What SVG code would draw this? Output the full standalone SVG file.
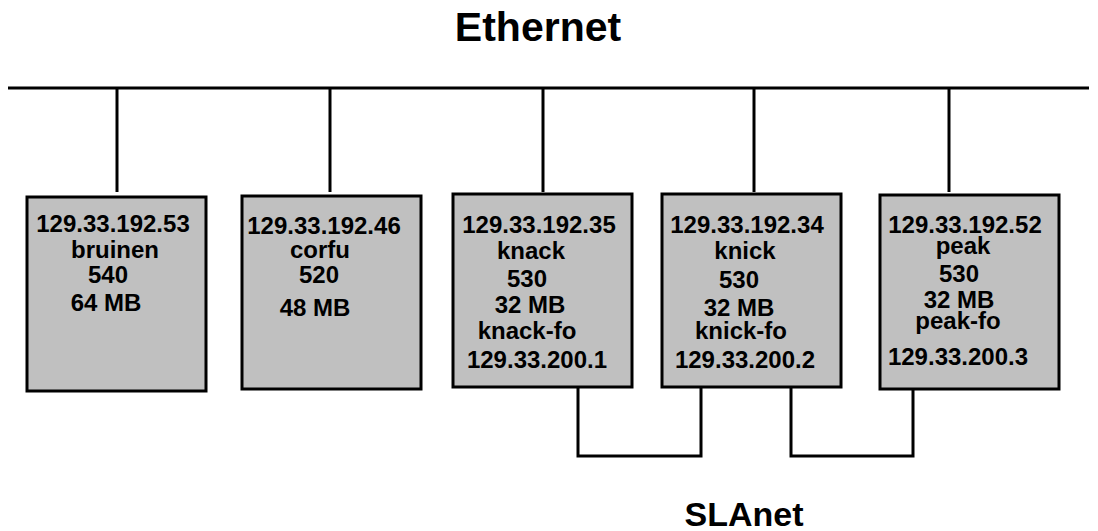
<svg xmlns="http://www.w3.org/2000/svg" width="1098" height="531" viewBox="0 0 1098 531">
<style>
text{font-family:"Liberation Sans",Arial,sans-serif;font-weight:bold;fill:#000;text-anchor:middle}
.t{font-size:24px}
.title{font-size:41px}
.sub{font-size:34px}
.box{fill:#c0c0c0;stroke:#000;stroke-width:3}
.ln{fill:none;stroke:#000;stroke-width:3}
</style>
<rect width="1098" height="531" fill="#fff"/>
<text class="title" x="538" y="41">Ethernet</text>
<text class="sub" x="744" y="526">SLAnet</text>
<g id="connectors">
<line class="ln" x1="8" y1="88" x2="1089" y2="88"/>
<line class="ln" x1="117" y1="88" x2="117" y2="192"/>
<line class="ln" x1="330" y1="88" x2="330" y2="192"/>
<line class="ln" x1="543" y1="88" x2="543" y2="192"/>
<line class="ln" x1="754" y1="88" x2="754" y2="192"/>
<line class="ln" x1="949" y1="88" x2="949" y2="192"/>
<polyline class="ln" points="578,387 578,456 701,456 701,387"/>
<polyline class="ln" points="791,387 791,456 913,456 913,387"/>
</g>
<g id="bruinen">
<rect class="box" x="27" y="197" width="179" height="194"/>
<text class="t" x="113" y="232">129.33.192.53</text>
<text class="t" x="115" y="258">bruinen</text>
<text class="t" x="108" y="283">540</text>
<text class="t" x="106" y="311">64 MB</text>
</g>
<g id="corfu">
<rect class="box" x="242" y="196" width="179" height="193"/>
<text class="t" x="324" y="234">129.33.192.46</text>
<text class="t" x="320" y="258">corfu</text>
<text class="t" x="319" y="283">520</text>
<text class="t" x="315" y="316">48 MB</text>
</g>
<g id="knack">
<rect class="box" x="453" y="194" width="179" height="193"/>
<text class="t" x="539" y="233">129.33.192.35</text>
<text class="t" x="531" y="259">knack</text>
<text class="t" x="527" y="287">530</text>
<text class="t" x="530" y="313">32 MB</text>
<text class="t" x="527" y="339">knack-fo</text>
<text class="t" x="537" y="368">129.33.200.1</text>
</g>
<g id="knick">
<rect class="box" x="662" y="194" width="179" height="193"/>
<text class="t" x="747" y="233">129.33.192.34</text>
<text class="t" x="745" y="259">knick</text>
<text class="t" x="739" y="288">530</text>
<text class="t" x="739" y="316">32 MB</text>
<text class="t" x="741" y="339">knick-fo</text>
<text class="t" x="745" y="368">129.33.200.2</text>
</g>
<g id="peak">
<rect class="box" x="880" y="195" width="179" height="194"/>
<text class="t" x="965" y="233">129.33.192.52</text>
<text class="t" x="963" y="254">peak</text>
<text class="t" x="959" y="282">530</text>
<text class="t" x="959" y="308">32 MB</text>
<text class="t" x="958" y="329">peak-fo</text>
<text class="t" x="958" y="365">129.33.200.3</text>
</g>
</svg>
